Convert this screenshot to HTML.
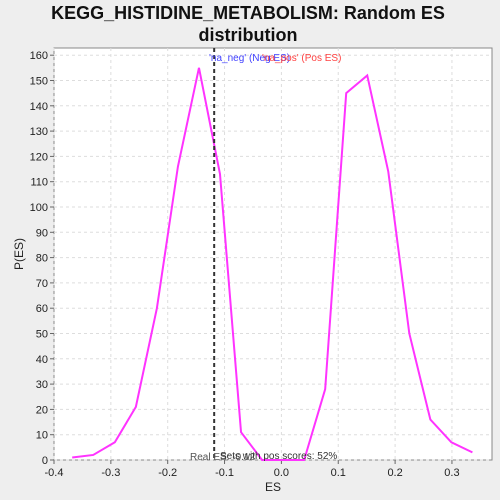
<!DOCTYPE html>
<html><head><meta charset="utf-8"><style>
body{margin:0;background:#eeeeee;font-family:"Liberation Sans","DejaVu Sans",sans-serif;}
svg{display:block}
</style></head><body>
<svg id="chart" width="500" height="500" xmlns="http://www.w3.org/2000/svg">
<rect width="500" height="500" fill="#eeeeee"/>
<text x="248" y="19" text-anchor="middle" font-size="18" font-weight="bold" fill="#111">KEGG_HISTIDINE_METABOLISM: Random ES</text>
<text x="248" y="41" text-anchor="middle" font-size="18" font-weight="bold" fill="#111">distribution</text>
<rect x="54" y="48" width="438" height="412" fill="#fff" stroke="#888" stroke-width="1"/>
<g id="grid"></g><g id="axes"></g><g id="series"></g>
<text x="273" y="491" text-anchor="middle" font-size="12" fill="#222">ES</text>
<text x="23" y="254" text-anchor="middle" font-size="12" fill="#222" transform="rotate(-90 23 254)">P(ES)</text>
<text x="209" y="61" font-size="10" fill="#4040ff">'na_neg' (Neg ES)</text>
<text x="262" y="61" font-size="10" fill="#ff4040">'na_pos' (Pos ES)</text>
<text x="190" y="460" font-size="10" fill="#555">Real ES: -0.12</text>
<text x="220" y="459" font-size="10" fill="#333">Sets with pos scores: 52%</text>
</svg>
<script>
const xs=[-0.368,-0.331,-0.293,-0.256,-0.219,-0.182,-0.145,-0.108,-0.071,-0.034,0.003,0.040,0.077,0.114,0.151,0.188,0.225,0.262,0.299,0.336];
const ys=[1,2,7,21,60,116,155,113,11,0,0,0,28,145,152,114,50,16,7,3];
const xTicks=[-0.4,-0.3,-0.2,-0.1,0.0,0.1,0.2,0.3];
const xTickLabels=["-0.4","-0.3","-0.2","-0.1","0.0","0.1","0.2","0.3"];
const yTicks=[0,10,20,30,40,50,60,70,80,90,100,110,120,130,140,150,160];
const realES=-0.12;
const NS="http://www.w3.org/2000/svg";
const X=v=>54+(v+0.4)*568.5;
const Y=v=>460-v*2.53;
function mk(t,a,p){const e=document.createElementNS(NS,t);for(const k in a)e.setAttribute(k,a[k]);document.getElementById(p).appendChild(e);return e;}
xTicks.forEach((t,i)=>{
 const g=mk('line',{x1:X(t),x2:X(t),y1:48,y2:460,stroke:'#ddd','stroke-dasharray':'3,3'},'grid');
 
 
 const tk=mk('line',{x1:X(t),x2:X(t),y1:460,y2:464,stroke:'#666'},'axes');
 
 
 const l=mk('text',{x:X(t),y:476,'text-anchor':'middle','font-size':'11',fill:'#222'},'axes');
 l.textContent=xTickLabels[i];
 
 
});
yTicks.forEach(t=>{
 const g=mk('line',{x1:54,x2:492,y1:Y(t),y2:Y(t),stroke:'#ddd','stroke-dasharray':'3,3'},'grid');
 
 
 const tk=mk('line',{x1:50,x2:54,y1:Y(t),y2:Y(t),stroke:'#666'},'axes');
 
 
 const l=mk('text',{x:48,y:Y(t)+4,'text-anchor':'end','font-size':'11',fill:'#222'},'axes');
 l.textContent=String(t);
 
 
});
const line=mk('polyline',{points:xs.map((x,i)=>X(x)+','+Y(ys[i])).join(' '),fill:'none',stroke:'#ff33ff','stroke-width':'2'},'series');


const r=mk('line',{x1:X(realES)+1,x2:X(realES)+1,y1:48,y2:460,stroke:'#333','stroke-width':'2','stroke-dasharray':'4,3'},'series');


</script>
</body></html>
